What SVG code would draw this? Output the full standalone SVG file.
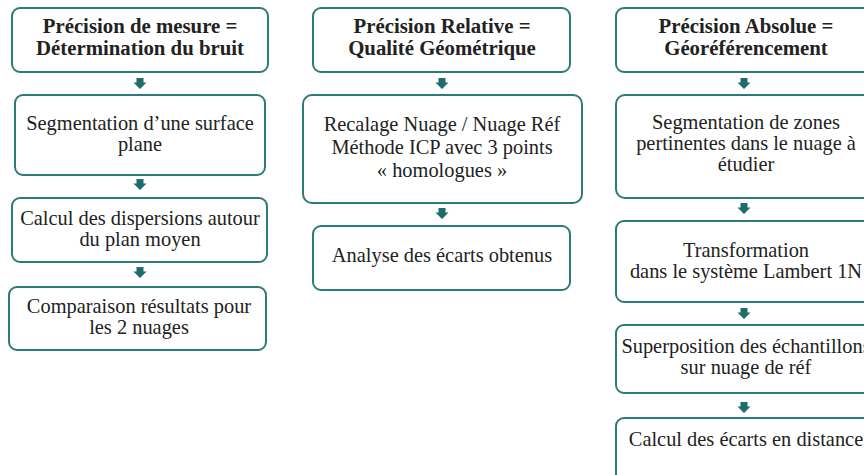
<svg xmlns="http://www.w3.org/2000/svg" width="864" height="475" viewBox="0 0 864 475">
<defs>
<style>
.box{fill:#ffffff;stroke:#2b7b78;stroke-width:2}
.t{font-family:"Liberation Serif","DejaVu Serif",serif;font-size:20.4px;fill:#222;text-anchor:middle}
.b{font-weight:bold;font-size:20.8px}
.arr{fill:#1f6d6a}
</style>
<path id="dn" d="M-3.5,0 H3.5 V4.5 H6.5 L0,11 L-6.5,4.5 H-3.5 Z"/>
</defs>
<rect width="864" height="475" fill="#fff"/>
<g id="connectors">
<use href="#dn" class="arr" x="140" y="78"/>
<use href="#dn" class="arr" x="140" y="179"/>
<use href="#dn" class="arr" x="140" y="267"/>
<use href="#dn" class="arr" x="442" y="78"/>
<use href="#dn" class="arr" x="442" y="208"/>
<use href="#dn" class="arr" x="744" y="78"/>
<use href="#dn" class="arr" x="744" y="203"/>
<use href="#dn" class="arr" x="744" y="308"/>
<use href="#dn" class="arr" x="744" y="402"/>
</g>
<g id="l1"><rect class="box" x="12" y="8" width="256" height="64" rx="8"/>
<text class="t b" x="140" y="33">Précision de mesure =</text><text class="t b" x="140" y="55">Détermination du bruit</text></g>
<g id="l2"><rect class="box" x="15" y="95" width="250" height="80" rx="8"/>
<text class="t" x="140" y="130">Segmentation d’une surface</text><text class="t" x="140" y="151">plane</text></g>
<g id="l3"><rect class="box" x="12" y="198" width="255" height="64" rx="8"/>
<text class="t" x="140" y="225">Calcul des dispersions autour</text><text class="t" x="140" y="246">du plan moyen</text></g>
<g id="l4"><rect class="box" x="9" y="287" width="257" height="63" rx="8"/>
<text class="t" x="139" y="313">Comparaison résultats pour</text><text class="t" x="139" y="334">les 2 nuages</text></g>
<g id="m1"><rect class="box" x="313" y="8" width="257" height="64" rx="8"/>
<text class="t b" x="442" y="33">Précision Relative =</text><text class="t b" x="442" y="55">Qualité Géométrique</text></g>
<g id="m2"><rect class="box" x="303" y="95" width="279" height="108" rx="9"/>
<text class="t" x="442" y="131">Recalage Nuage / Nuage Réf</text><text class="t" x="442" y="154">Méthode ICP avec 3 points</text><text class="t" x="442" y="177">« homologues »</text></g>
<g id="m3"><rect class="box" x="313" y="226" width="257" height="64" rx="8"/>
<text class="t" x="442" y="262">Analyse des écarts obtenus</text></g>
<g id="r1"><rect class="box" x="616" y="8" width="262" height="64" rx="8"/>
<text class="t b" x="746" y="33">Précision Absolue =</text><text class="t b" x="746" y="55">Géoréférencement</text></g>
<g id="r2"><rect class="box" x="616" y="95" width="262" height="103" rx="9"/>
<text class="t" x="746" y="129">Segmentation de zones</text><text class="t" x="746" y="150">pertinentes dans le nuage à</text><text class="t" x="746" y="171">étudier</text></g>
<g id="r3"><rect class="box" x="616" y="221" width="262" height="81" rx="8"/>
<text class="t" x="746" y="257">Transformation</text><text class="t" x="746" y="278">dans le système Lambert 1N</text></g>
<g id="r4"><rect class="box" x="616" y="325" width="262" height="68" rx="8"/>
<text class="t" x="746" y="353">Superposition des échantillons</text><text class="t" x="746" y="374">sur nuage de réf</text></g>
<g id="r5"><rect class="box" x="616" y="418" width="262" height="70" rx="8"/>
<text class="t" x="746" y="446">Calcul des écarts en distance</text></g>
</svg>
